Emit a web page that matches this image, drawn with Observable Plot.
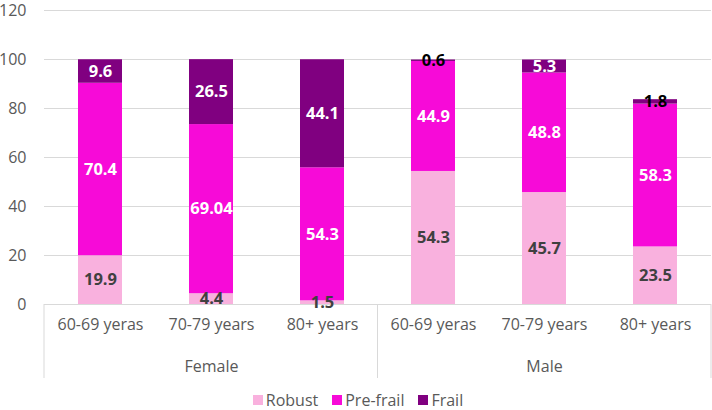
<!DOCTYPE html>
<html>
<head>
<meta charset="utf-8">
<script src="https://cdn.jsdelivr.net/npm/d3@7"></script>
<script src="https://cdn.jsdelivr.net/npm/@observablehq/plot@0.6"></script>
<style>
  html, body { margin: 0; padding: 0; background: #fff; }
  body { width: 712px; height: 410px; overflow: hidden; font-family: "Open Sans", sans-serif; }
  #legend { display: flex; justify-content: center; gap: 14px; font-size: 16px; color: #595959; height: 20px; line-height: 20px; margin-left: 4px; }
  #legend span.item { display: inline-flex; align-items: center; gap: 3px; }
  #legend span.sw { display: inline-block; width: 10px; height: 10px; }
</style>
</head>
<body>
<div id="chart"></div>
<div id="legend"></div>
<script>
const groups = ["Female", "Female", "Female", "Male", "Male", "Male"];
const ages = ["60-69 yeras", "70-79 years", "80+ years", "60-69 yeras", "70-79 years", "80+ years"];
const statuses = ["Robust", "Pre-frail", "Frail"];
const robust = [19.9, 4.4, 1.5, 54.3, 45.7, 23.5];
const preFrail = [70.4, 69.04, 54.3, 44.9, 48.8, 58.3];
const frail = [9.6, 26.5, 44.1, 0.6, 5.3, 1.8];
const yTicks = [0, 20, 40, 60, 80, 100, 120];
const colors = ["#f9b1de", "#f70ad8", "#800080"];

const keys = groups.map((g, i) => g + "|" + ages[i]);
const seriesValues = [robust, preFrail, frail];
const rows = [];
statuses.forEach((s, si) => keys.forEach((k, i) => rows.push({key: k, group: groups[i], age: ages[i], status: s, value: seriesValues[si][i]})));

const groupNames = Array.from(new Set(groups));
const groupMid = groupNames.map(g => {
  const ks = keys.filter((k, i) => groups[i] === g);
  return {group: g, key: ks[Math.floor(ks.length / 2)]};
});

function labelColor(d) {
  if (d.status === "Robust") return "#404040";
  if (d.status === "Frail" && d.value < 3) return "#000";
  return "#fff";
}

const gridColor = "#d9d9d9";

function boxMark(index, scales, values, dims) {
  const x = scales.x;
  let bw = 0;
  if (typeof x.bandwidth === "function") bw = x.bandwidth();
  else if (typeof x.bandwidth === "number") bw = x.bandwidth;
  const centers = keys.map(k => x(k) + bw / 2);
  const left = dims.marginLeft, right = dims.width - dims.marginRight;
  const bottom = dims.height - dims.marginBottom;
  const xs = [left];
  for (let i = 1; i < keys.length; i++) {
    if (groups[i] !== groups[i - 1]) xs.push((centers[i - 1] + centers[i]) / 2);
  }
  xs.push(right);
  const g = d3.create("svg:g");
  xs.forEach(xx => {
    g.append("line").attr("x1", xx).attr("x2", xx).attr("y1", bottom).attr("y2", bottom + 74)
      .attr("stroke", gridColor).attr("stroke-width", 1);
  });
  return g.node();
}

const chart = Plot.plot({
  width: 712,
  height: 390,
  marginLeft: 44,
  marginRight: 1,
  marginTop: 10,
  marginBottom: 86,
  style: {fontFamily: "'Open Sans', sans-serif", background: "#fff", overflow: "visible"},
  x: {domain: keys, paddingInner: 0.6, paddingOuter: 0.3, axis: null},
  y: {domain: [0, 120], axis: null},
  color: {domain: statuses, range: colors},
  marks: [
    Plot.gridY(yTicks, {stroke: gridColor, strokeOpacity: 1, strokeWidth: 1.2}),
    Plot.axisY(yTicks, {tickSize: 0, tickPadding: 18, fontSize: 16, fill: "#595959", tickFormat: d => d, label: null}),
    Plot.ruleY([0], {stroke: gridColor, strokeWidth: 1.2}),
    Plot.barY(rows, Plot.stackY({x: "key", y: "value", fill: "status", z: "status", order: statuses})),
    Plot.text(rows, Plot.stackY({x: "key", y: "value", z: "status", order: statuses, text: d => String(d.value), fill: labelColor, fontWeight: "bold", fontSize: 16.5})),
    boxMark,
    Plot.text(keys, {x: d => d, text: (d, i) => ages[i], frameAnchor: "bottom", dy: 25, fontSize: 16, fill: "#595959"}),
    Plot.text(groupMid, {x: "key", text: "group", frameAnchor: "bottom", dy: 67, fontSize: 16, fill: "#595959"})
  ]
});
document.getElementById("chart").appendChild(chart);

const legend = document.getElementById("legend");
statuses.forEach((s, i) => {
  const item = document.createElement("span");
  item.className = "item";
  const sw = document.createElement("span");
  sw.className = "sw";
  sw.style.background = colors[i];
  item.appendChild(sw);
  item.appendChild(document.createTextNode(s));
  legend.appendChild(item);
});
</script>
</body>
</html>
